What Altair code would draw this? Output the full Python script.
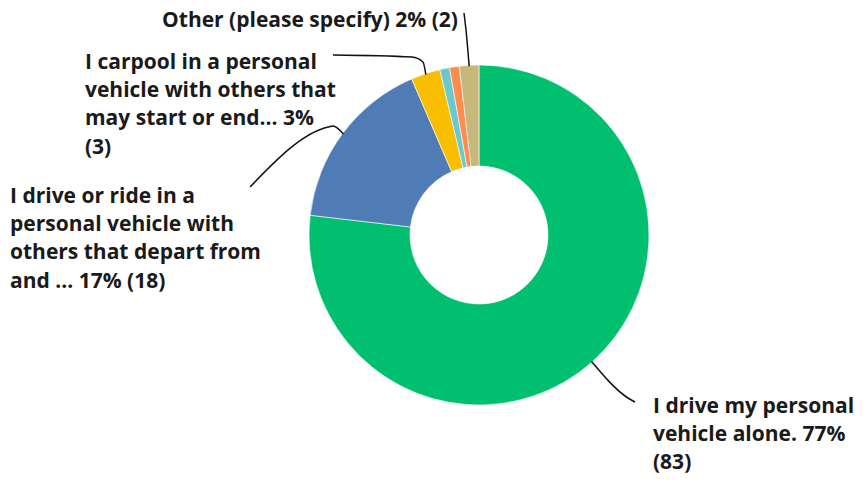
import altair as alt
import pandas as pd
import numpy as np

categories = [
    "I drive my personal vehicle alone.",
    "I drive or ride in a personal vehicle with others that depart from and ...",
    "I carpool in a personal vehicle with others that may start or end...",
    "Response 4",
    "Response 5",
    "Other (please specify)",
]
counts = [83, 18, 3, 1, 1, 2]
percents = [77, 17, 3, 1, 1, 2]
colors = ["#00BF6F", "#507CB6", "#F9BE00", "#6BC8CD", "#FF8B4F", "#C7B879"]

label_lines = {
    0: ["I drive my personal", "vehicle alone. 77%", "(83)"],
    1: ["I drive or ride in a", "personal vehicle with", "others that depart from", "and ... 17% (18)"],
    2: ["I carpool in a personal", "vehicle with others that", "may start or end... 3%", "(3)"],
    5: ["Other (please specify) 2% (2)"],
}
# layout (pixel positions in the plot area)
CX, CY = 471, 227
R_OUT, R_IN = 170, 69
LINE_H = 28.2
FONT = "Open Sans"
FSIZE = 21
label_anchor = {0: (645, 399, "left"), 1: (2, 189, "left"), 2: (77, 55, "left"), 5: (302, 13, "center")}
leader_path = {
    0: [(620, 390), (627, 394)],
    1: [(325, 118), (320, 119), (242, 179)],
    2: [(415, 54), (404, 49), (325, 47)],
    5: [(458, 22), (456, 5)],
}

df = pd.DataFrame({"category": categories, "count": counts, "idx": list(range(len(counts)))})

total = sum(counts)
cum = np.cumsum([0] + counts)

text_rows = []
for k, lines in label_lines.items():
    x0, y0, al = label_anchor[k]
    for i, t in enumerate(lines):
        text_rows.append({"t": t, "x": x0, "y": y0 + i * LINE_H, "align": al})
tdf = pd.DataFrame(text_rows)

line_rows = []
for k, pts in leader_path.items():
    mid = (cum[k] + counts[k] / 2) / total * 2 * np.pi
    sx = CX + (R_OUT - 1) * np.sin(mid)
    sy = CY - (R_OUT - 1) * np.cos(mid)
    allp = [(sx, sy)] + pts
    for j, (px, py) in enumerate(allp):
        line_rows.append({"g": k, "o": j, "x": px, "y": py})
ldf = pd.DataFrame(line_rows)

arcs = alt.Chart(df).mark_arc(innerRadius=R_IN, outerRadius=R_OUT, stroke="white", strokeWidth=0.6).encode(
    theta=alt.Theta("count:Q", stack=True),
    color=alt.Color("category:N", scale=alt.Scale(domain=categories, range=colors), legend=None),
    order=alt.Order("idx:Q", sort="ascending"),
    x=alt.value(CX),
    y=alt.value(CY),
)

leaders = alt.Chart(ldf).mark_line(color="#111111", strokeWidth=1.5, interpolate="monotone").encode(
    x=alt.X("x:Q", scale=None),
    y=alt.Y("y:Q", scale=None),
    detail="g:N",
    order="o:Q",
)

left_text = alt.Chart(tdf[tdf["align"] == "left"]).mark_text(
    align="left", baseline="middle", font=FONT, fontWeight="bold", fontSize=FSIZE, color="#1a1a1a"
).encode(x=alt.X("x:Q", scale=None), y=alt.Y("y:Q", scale=None), text="t:N")

center_text = alt.Chart(tdf[tdf["align"] == "center"]).mark_text(
    align="center", baseline="middle", font=FONT, fontWeight="bold", fontSize=FSIZE, color="#1a1a1a"
).encode(x=alt.X("x:Q", scale=None), y=alt.Y("y:Q", scale=None), text="t:N")

chart = alt.layer(arcs, leaders, left_text, center_text).properties(
    width=848, height=467, padding=0, autosize=alt.AutoSizeParams(type="none")
).configure_view(strokeWidth=0)

chart.save("out.html", embed_options={"renderer": "svg", "actions": False})
